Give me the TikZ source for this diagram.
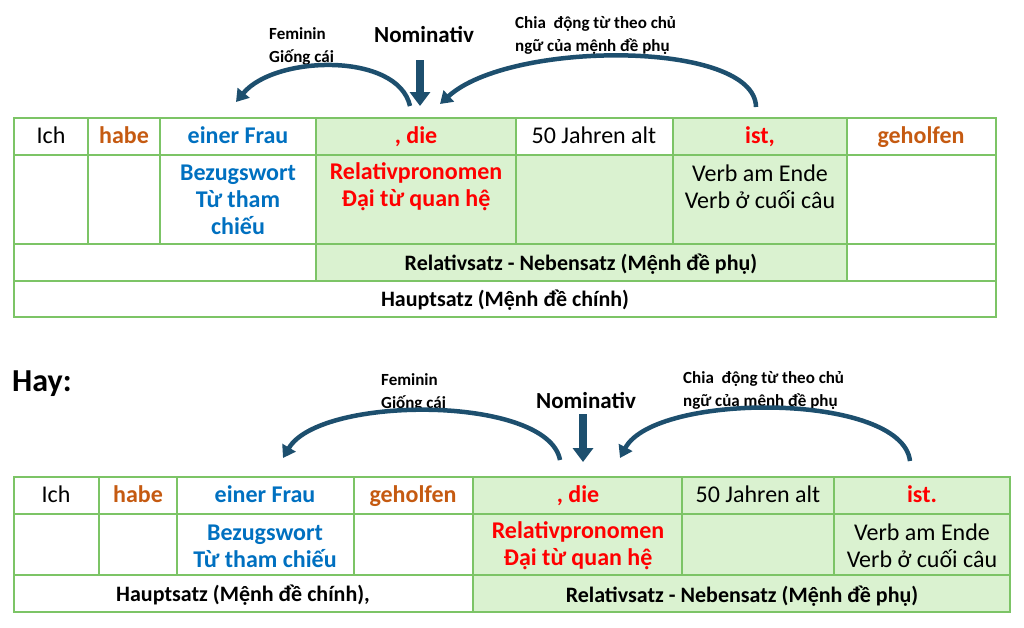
\documentclass[tikz,border=0pt]{standalone}
\usepackage{fontspec}
\setmainfont{Carlito}
\usetikzlibrary{arrows.meta}
\definecolor{gfill}{HTML}{DAF2D0}
\definecolor{gline}{HTML}{7CC466}
\definecolor{org}{HTML}{C55A11}
\definecolor{blu}{HTML}{0070C0}
\definecolor{red}{HTML}{FF0000}
\definecolor{arr}{HTML}{1D4F6E}
\tikzset{
  t/.style={font=\fontsize{24}{28}\selectfont, align=center, inner sep=0pt, text height=15pt, text depth=2pt},
  b/.style={t, font=\fontsize{24}{28}\selectfont\bfseries},
  ml/.style={align=center, inner sep=0pt},
  sm/.style={font=\fontsize{17}{23}\selectfont\bfseries, align=left, inner sep=0pt, anchor=west},
  grid/.style={gline, line width=1.3pt},
  curv/.style={arr, line width=4.5pt, -{Triangle[width=15pt,length=12pt]}},
  down/.style={arr, line width=8pt, -{Triangle[width=20pt,length=14pt]}}
}
\begin{document}
\begin{tikzpicture}[x=1pt,y=-1pt]
\useasboundingbox (0,0) rectangle (1024,627);
% ---------- top table
\fill[gfill] (316,118) rectangle (516,154);
\fill[gfill] (673,118) rectangle (847,154);
\fill[gfill] (316,154) rectangle (847,281);
\draw[grid] (14,118) rectangle (996,317);
\draw[grid, line width=2.6pt] (14,155) -- (996,155);
\draw[grid] (14,244) -- (996,244);
\draw[grid] (14,281) -- (996,281);
\foreach \x in {88,160} \draw[grid] (\x,118) -- (\x,244);
\foreach \x in {316,847} \draw[grid] (\x,118) -- (\x,281);
\foreach \x in {516,673} \draw[grid] (\x,118) -- (\x,244);
\node[t] (a1) at (51,137) {Ich};
\node[b, org] (a2) at (124,137) {habe};
\node[b, blu] (a3) at (238,137) {einer Frau};
\node[b, red] (a4) at (416,137) {, die};
\node[t] (a5) at (594,137) {50 Jahren alt};
\node[b, red] (a6) at (760,137) {ist,};
\node[b, org] (a7) at (921,137) {geholfen};
\node[ml, blu, font=\fontsize{24}{27}\selectfont\bfseries] (a8) at (238,200) {Bezugswort\\Từ tham\\chiếu};
\node[ml, red, font=\fontsize{24}{27}\selectfont\bfseries] (a9) at (416,187) {Relativpronomen\\Đại từ quan hệ};
\node[ml, font=\fontsize{24}{27}\selectfont] (a10) at (760,187) {Verb am Ende\\Verb ở cuối câu};
\node[b, font=\fontsize{22}{26}\selectfont\bfseries] (a11) at (581,264) {Relativsatz - Nebensatz (Mệnh đề phụ)};
\node[b, font=\fontsize{22}{26}\selectfont\bfseries] (a12) at (505,300) {Hauptsatz (Mệnh đề chính)};
% top annotations
\node[sm] (f1) at (269,46) {Feminin\\Giống cái};
\node[b, font=\fontsize{23}{27}\selectfont\bfseries] (n1) at (424,36) {Nominativ};
\node[sm] (c1) at (515,35) {Chia~ động từ theo chủ\\ngữ của mệnh đề phụ};
\coordinate (l1s) at (410,106); \coordinate (l1e) at (236,102);
\coordinate (r1s) at (756,107); \coordinate (r1e) at (440,104);
\coordinate (d1s) at (420,60); \coordinate (d1e) at (420,106);
\draw[curv] (l1s) .. controls (398,52) and (275,55) .. (l1e);
\draw[curv] (r1s) .. controls (755,40) and (510,40) .. (r1e);
\draw[down] (d1s) -- (d1e);
% ---------- bottom
\node[anchor=west, inner sep=0pt, font=\fontsize{32}{36}\selectfont\bfseries] (hay) at (12,384) {Hay:};
\fill[gfill] (473,477) rectangle (1010,612);
\draw[grid] (14,477) rectangle (1010,612);
\draw[grid, line width=2.6pt] (14,514) -- (1010,514);
\draw[grid] (14,575) -- (1010,575);
\foreach \x in {99,177,354,682,834} \draw[grid] (\x,477) -- (\x,575);
\draw[grid] (473,477) -- (473,612);
\node[t] (b1) at (56,496) {Ich};
\node[b, org] (b2) at (138,496) {habe};
\node[b, blu] (b3) at (265,496) {einer Frau};
\node[b, org] (b4) at (413,496) {geholfen};
\node[b, red] (b5) at (578,496) {, die};
\node[t] (b6) at (758,496) {50 Jahren alt};
\node[b, red] (b7) at (922,496) {ist.};
\node[ml, blu, font=\fontsize{24}{27}\selectfont\bfseries] (b8) at (265,546) {Bezugswort\\Từ tham chiếu};
\node[ml, red, font=\fontsize{24}{27}\selectfont\bfseries] (b9) at (578,546) {Relativpronomen\\Đại từ quan hệ};
\node[ml, font=\fontsize{24}{27}\selectfont] (b10) at (922,546) {Verb am Ende\\Verb ở cuối câu};
\node[b, font=\fontsize{22}{26}\selectfont\bfseries] (b11) at (243,595) {Hauptsatz (Mệnh đề chính),};
\node[b, font=\fontsize{22}{26}\selectfont\bfseries] (b12) at (742,596) {Relativsatz - Nebensatz (Mệnh đề phụ)};
\node[sm] (f2) at (381,392) {Feminin\\Giống cái};
\node[b, font=\fontsize{23}{27}\selectfont\bfseries] (n2) at (586,402) {Nominativ};
\node[sm] (c2) at (683,390) {Chia~ động từ theo chủ\\ngữ của mệnh đề phụ};
\coordinate (l2s) at (560,460); \coordinate (l2e) at (283,458);
\coordinate (r2s) at (910,461); \coordinate (r2e) at (620,458);
\coordinate (d2s) at (583,414); \coordinate (d2e) at (583,462);
\draw[curv] (l2s) .. controls (548,395) and (320,395) .. (l2e);
\draw[curv] (r2s) .. controls (902,392) and (655,392) .. (r2e);
\draw[down] (d2s) -- (d2e);
\end{tikzpicture}
\end{document}
